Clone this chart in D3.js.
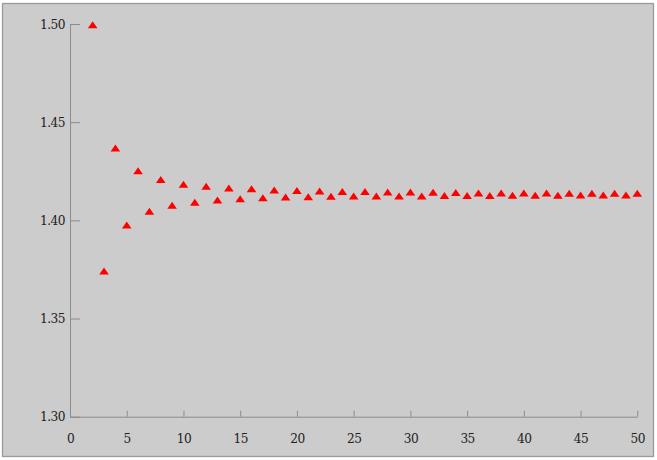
<!DOCTYPE html>
<html>
<head>
<meta charset="utf-8">
<script src="https://cdn.jsdelivr.net/npm/d3@7"></script>
<style>
  html, body { margin: 0; padding: 0; background: #ffffff; }
  svg { display: block; }
</style>
</head>
<body>
<svg id="chart" width="657" height="460"></svg>
<script>
// Data
const nValues = [2,3,4,5,6,7,8,9,10,11,12,13,14,15,16,17,18,19,20,21,22,23,24,25,26,
                 27,28,29,30,31,32,33,34,35,36,37,38,39,40,41,42,43,44,45,46,47,48,49,50];
const seqValues = [1.5000,1.3745,1.4372,1.3980,1.4256,1.4050,1.4211,1.4081,1.4188,1.4096,
                   1.4177,1.4107,1.4168,1.4114,1.4165,1.4119,1.4158,1.4122,1.4155,1.4124,
                   1.4153,1.4126,1.4150,1.4127,1.4150,1.4127,1.4148,1.4128,1.4148,1.4128,
                   1.4147,1.4130,1.4145,1.4130,1.4143,1.4130,1.4143,1.4132,1.4143,1.4132,
                   1.4143,1.4132,1.4142,1.4133,1.4142,1.4133,1.4142,1.4133,1.4142];
const xTicks = [0,5,10,15,20,25,30,35,40,45,50];
const yTicks = [1.30,1.35,1.40,1.45,1.50];

const svg = d3.select("#chart");

svg.append("rect")
  .attr("x", 2.5).attr("y", 3.5).attr("width", 651).attr("height", 453)
  .attr("fill", "#cccccc").attr("stroke", "#9a9a9a").attr("stroke-width", 1.3);

const x = d3.scaleLinear().domain([0, 50]).range([70, 637.3]);
const y = d3.scaleLinear().domain([1.3, 1.5]).range([416.7, 24]);

const yAxis = svg.append("g")
  .attr("transform", `translate(${x(0)},0)`)
  .call(d3.axisLeft(y).tickValues(yTicks).tickFormat(d3.format(".2f"))
        .tickSizeInner(-10).tickSizeOuter(0).tickPadding(5));
const xAxis = svg.append("g")
  .attr("transform", `translate(0,${y(1.3)})`)
  .call(d3.axisBottom(x).tickValues(xTicks).tickFormat(d3.format("d"))
        .tickSizeInner(-6).tickSizeOuter(0).tickPadding(15));

[yAxis, xAxis].forEach(g => {
  g.attr("font-size", 13.5)
   .attr("font-family", "DejaVu Serif Condensed, DejaVu Serif")
   .style("font-stretch", "condensed")
   .attr("letter-spacing", -0.5);
  g.select(".domain").attr("stroke", "#8c8c8c").attr("stroke-width", 1);
  g.selectAll(".tick line").attr("stroke", "#8c8c8c").attr("stroke-width", 1);
  g.selectAll(".tick text").attr("fill", "#222");
});
yAxis.selectAll(".tick text").attr("dy", "0.3em");
xAxis.selectAll(".tick text").attr("y", 26).attr("dy", 0);

const data = nValues.map((n, i) => ({ n, v: seqValues[i] }));
svg.append("g").selectAll("path")
  .data(data)
  .join("path")
  .attr("transform", d => `translate(${x(d.n)},${y(d.v)})`)
  .attr("d", "M0,-2.8L4.8,4.2L-4.8,4.2Z")
  .attr("fill", "#ff0000");
</script>
</body>
</html>
